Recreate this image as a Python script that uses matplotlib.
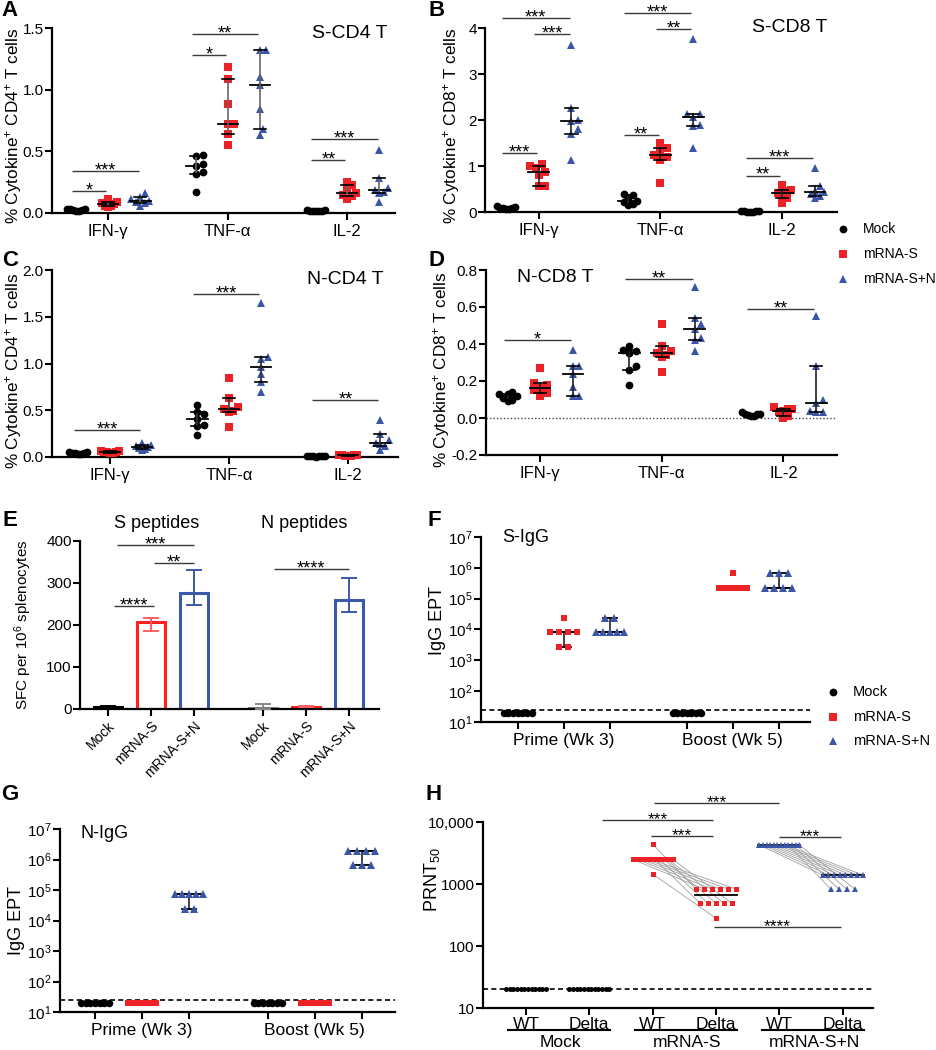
import numpy as np
import matplotlib
matplotlib.use('Agg')
import matplotlib.pyplot as plt
from matplotlib.lines import Line2D
from matplotlib.ticker import NullLocator
from matplotlib.transforms import blended_transform_factory

plt.rcParams['font.family'] = ['Liberation Sans', 'DejaVu Sans']
plt.rcParams['mathtext.fontset'] = 'custom'
plt.rcParams['mathtext.rm'] = 'Liberation Sans'
plt.rcParams['mathtext.it'] = 'Liberation Sans:italic'
plt.rcParams['mathtext.bf'] = 'Liberation Sans:bold'
plt.rcParams['axes.unicode_minus'] = False

# ---------------- DATA ----------------
groups = ['Mock', 'mRNA-S', 'mRNA-S+N']
cyto_cats = ['IFN-γ', 'TNF-α', 'IL-2']

# Panel A: S-CD4 T   (lists per cytokine: IFN-γ, TNF-α, IL-2)
A_mock = [[0.02, 0.025, 0.03, 0.02, 0.03, 0.025, 0.035],
          [0.47, 0.46, 0.40, 0.38, 0.33, 0.32, 0.17],
          [0.02, 0.02, 0.025, 0.015, 0.02, 0.025, 0.02]]
A_s = [[0.11, 0.09, 0.08, 0.07, 0.06, 0.06, 0.05],
       [1.18, 1.09, 0.88, 0.72, 0.72, 0.64, 0.55],
       [0.25, 0.23, 0.19, 0.16, 0.15, 0.14, 0.11]]
A_sn = [[0.16, 0.13, 0.11, 0.10, 0.09, 0.08, 0.06],
        [1.32, 1.32, 1.10, 1.04, 0.84, 0.68, 0.63],
        [0.51, 0.28, 0.20, 0.19, 0.17, 0.16, 0.09]]
A_sig = [(0, 0, 1, 0.175, '*'), (0, 0, 2, 0.34, '***'), (1, 0, 1, 1.28, '*'),
         (1, 0, 2, 1.45, '**'), (2, 0, 1, 0.43, '**'), (2, 0, 2, 0.60, '***')]

# Panel B: S-CD8 T
B_mock = [[0.12, 0.10, 0.09, 0.08, 0.07, 0.09, 0.06],
          [0.40, 0.37, 0.30, 0.25, 0.22, 0.17, 0.15],
          [0.02, 0.01, 0.015, 0.01, 0.02, 0.01, 0.015]]
B_s = [[1.04, 0.99, 0.95, 0.88, 0.81, 0.56, 0.56],
       [1.49, 1.39, 1.31, 1.24, 1.20, 1.13, 0.64],
       [0.59, 0.48, 0.45, 0.41, 0.34, 0.30, 0.19]]
B_sn = [[3.64, 2.27, 2.00, 1.98, 1.80, 1.70, 1.13],
        [3.77, 2.14, 2.14, 2.07, 1.89, 1.87, 1.39],
        [0.95, 0.56, 0.45, 0.43, 0.40, 0.34, 0.30]]
B_sig = [(0, 0, 1, 1.28, '***'), (0, 1, 2, 3.86, '***'), (0, 0, 2, 4.22, '***'),
         (1, 0, 1, 1.67, '**'), (1, 1, 2, 3.97, '**'), (1, 0, 2, 4.33, '***'),
         (2, 0, 1, 0.79, '**'), (2, 0, 2, 1.17, '***')]

# Panel C: N-CD4 T
C_mock = [[0.05, 0.04, 0.04, 0.03, 0.04, 0.05, 0.03],
          [0.56, 0.48, 0.46, 0.41, 0.34, 0.33, 0.23],
          [0.01, 0.01, 0.015, 0.01, 0.005, 0.01, 0.01]]
C_s = [[0.06, 0.05, 0.05, 0.04, 0.06, 0.05, 0.04],
       [0.84, 0.63, 0.54, 0.51, 0.49, 0.48, 0.32],
       [0.02, 0.015, 0.02, 0.01, 0.025, 0.02, 0.015]]
C_sn = [[0.15, 0.13, 0.12, 0.11, 0.10, 0.09, 0.08],
        [1.65, 1.07, 1.05, 0.96, 0.89, 0.80, 0.70],
        [0.40, 0.25, 0.18, 0.15, 0.14, 0.12, 0.07]]
C_sig = [(0, 0, 2, 0.29, '***'), (1, 0, 2, 1.74, '***'), (2, 0, 2, 0.61, '**')]

# Panel D: N-CD8 T
D_mock = [[0.14, 0.13, 0.13, 0.12, 0.11, 0.10, 0.09],
          [0.39, 0.37, 0.36, 0.35, 0.28, 0.26, 0.18],
          [0.03, 0.02, 0.02, 0.015, 0.01, 0.02, 0.01]]
D_s = [[0.27, 0.19, 0.18, 0.16, 0.15, 0.135, 0.12],
       [0.51, 0.39, 0.36, 0.35, 0.34, 0.33, 0.25],
       [0.06, 0.05, 0.05, 0.04, 0.03, 0.01, 0.0]]
D_sn = [[0.37, 0.28, 0.28, 0.24, 0.17, 0.12, 0.12],
        [0.71, 0.54, 0.51, 0.48, 0.43, 0.42, 0.36],
        [0.55, 0.28, 0.10, 0.08, 0.04, 0.03, 0.03]]
D_sig = [(0, 0, 2, 0.42, '*'), (1, 0, 2, 0.75, '**'), (2, 0, 2, 0.59, '**')]

# Panel E: ELISpot
E_labels = ['Mock', 'mRNA-S', 'mRNA-S+N', 'Mock', 'mRNA-S', 'mRNA-S+N']
E_mean = [5, 208, 277, 2, 5, 260]
E_lo = [3, 185, 247, 0, 4, 232]
E_hi = [8, 217, 330, 13, 7, 311]
E_sig = [(0.15, 1.07, 245, '****'), (1.07, 2.0, 347, '**'),
         (0.2, 2.0, 390, '***'), (3.85, 5.6, 333, '****')]

# Panel F: S-IgG (endpoint titers)
F_prime = [[20] * 7,
           [24300, 8100, 8100, 8100, 8100, 2700, 2700],
           [24300, 24300, 8100, 8100, 8100, 8100, 8100]]
F_boost = [[20] * 7,
           [656100, 218700, 218700, 218700, 218700, 218700, 218700],
           [656100, 656100, 656100, 218700, 218700, 218700, 218700]]
# Panel G: N-IgG
G_prime = [[20] * 7, [20] * 7,
           [72900, 72900, 72900, 72900, 72900, 24300, 24300]]
G_boost = [[20] * 7, [20] * 7,
           [1968300, 1968300, 1968300, 1968300, 656100, 656100, 656100]]
LOD_IGG = 25
time_labels = ['Prime (Wk 3)', 'Boost (Wk 5)']

# Panel H: PRNT50 (paired WT / Delta)
H_mock_wt = [20] * 12
H_mock_delta = [20] * 12
H_s_wt = [4400] + [2500] * 10 + [1450]
H_s_delta = [830] * 6 + [490] * 5 + [280]
H_sn_wt = [4270] * 12
H_sn_delta = [1400] * 8 + [830] * 4
H_variants = ['WT', 'Delta']
LOD_PRNT = 20
H_sig = [(2.02, 4.0, 20000, '***'), (1.2, 2.95, 10700, '***'), (1.98, 2.95, 5900, '***'),
         (4.0, 4.98, 5800, '***'), (2.97, 4.98, 200, '****')]

# ---------------- STYLE / LAYOUT ----------------
RED = '#ec2227'
BLUE = '#3a55a5'
COLORS = ['black', RED, BLUE]
MARKERS = ['o', 's', '^']
MSIZE = [5.6, 5.2, 6.3]

W, Hh = 937, 1050
fig = plt.figure(figsize=(W / 100, Hh / 100), dpi=100)


def rect(l, t, r, b):
    return [l / W, 1 - b / Hh, (r - l) / W, (b - t) / Hh]


def fx(p):
    return p / W


def fy(p):
    return 1 - p / Hh


def style(ax):
    for s in ['top', 'right']:
        ax.spines[s].set_visible(False)
    for s in ['left', 'bottom']:
        ax.spines[s].set_linewidth(1.6)
    ax.tick_params(direction='out', length=5, width=1.5, labelsize=11, pad=1)
    ax.tick_params(axis='x', pad=3)
    ax.xaxis.set_minor_locator(NullLocator())
    ax.yaxis.set_minor_locator(NullLocator())


def ppu_x(ax):
    return ax.transData.transform((1, 1))[0] - ax.transData.transform((0, 1))[0]


def swarm(ax, xc, ys, diam, maxhalf):
    ys = np.asarray(ys, float)
    disp = ax.transData.transform(np.column_stack([np.full(len(ys), xc), ys]))
    ypx = disp[:, 1]
    order = np.argsort(ypx)
    px_list, py_list = [], []
    off = np.zeros(len(ys))
    step = diam / 2
    cands = [0.0] + [s * j * step for j in range(1, 60) for s in (1, -1)]
    for i in order:
        for c in cands:
            if all((c - a) ** 2 + (ypx[i] - b) ** 2 >= diam ** 2 for a, b in zip(px_list, py_list)):
                break
        off[i] = c
        px_list.append(c)
        py_list.append(ypx[i])
    m = np.abs(off).max()
    if m > maxhalf:
        off *= maxhalf / m
    return xc + off / ppu_x(ax)


def row_spread(ax, xc, ys, maxsp, width):
    ys = np.asarray(ys, float)
    off = np.zeros(len(ys))
    uniq = []
    for v in ys:
        if not any(np.isclose(v, u) for u in uniq):
            uniq.append(v)
    for u in uniq:
        idx = np.where(np.isclose(ys, u))[0]
        n = len(idx)
        if n > 1:
            sp = min(maxsp, width / (n - 1))
            off[idx] = (np.arange(n) - (n - 1) / 2) * sp
    return xc + off / ppu_x(ax)


def bracket(ax, x1, x2, y, txt, fs=13):
    ax.plot([x1, x2], [y, y], color='#3a3a3a', lw=1.0, clip_on=False, zorder=5,
            solid_capstyle='butt')
    ax.annotate(txt, xy=((x1 + x2) / 2, y), xytext=(0, -3), textcoords='offset points',
                ha='center', va='baseline', fontsize=fs, annotation_clip=False)


def median_bar(ax, xc, vals, half, cap, errcolor, lw=1.2, zmed=4):
    q1, med, q3 = np.percentile(vals, [25, 50, 75], method='weibull')
    ax.plot([xc - half, xc + half], [med, med], color='black', lw=lw + 0.1, zorder=zmed,
            clip_on=False)
    if q3 > q1:
        ax.plot([xc, xc], [q1, q3], color=errcolor, lw=lw, zorder=zmed, clip_on=False)
        for q in (q1, q3):
            ax.plot([xc - cap, xc + cap], [q, q], color='black', lw=lw, zorder=zmed,
                    clip_on=False)


GOFF = [-0.265, 0.0, 0.27]


def cyto_panel(box, xlim, ylim, yticks, yticklabels, series, sig, ylabel, lab_x, lab_y,
               errcolor):
    ax = fig.add_axes(rect(*box))
    style(ax)
    ax.set_xlim(xlim)
    ax.set_ylim(ylim)
    ax.set_yticks(yticks)
    ax.set_yticklabels(yticklabels)
    ax.set_xticks([0, 1, 2])
    ax.set_xticklabels(cyto_cats, fontsize=12)
    ax.set_ylabel(ylabel, fontsize=12.3)
    ax.yaxis.set_label_coords(lab_x, lab_y)
    for gi, data in enumerate(series):
        for ci, vals in enumerate(data):
            xc = ci + GOFF[gi]
            xs = swarm(ax, xc, vals, 6.5, 9)
            ax.plot(xs, vals, ls='none', marker=MARKERS[gi], ms=MSIZE[gi], mew=0,
                    color=COLORS[gi], zorder=3, clip_on=False)
            median_bar(ax, xc, vals, 0.085, 0.05, errcolor)
    for ci, g1, g2, y, txt in sig:
        bracket(ax, ci + GOFF[g1] - 0.035, ci + GOFF[g2] - 0.015, y, txt)
    return ax


# ---- A ----
cyto_panel((52, 28, 395, 213), (-0.47, 2.4), (0, 1.5), [0, 0.5, 1.0, 1.5],
           ['0.0', '0.5', '1.0', '1.5'], [A_mock, A_s, A_sn], A_sig,
           r'% Cytokine$^{+}$ CD4$^{+}$ T cells', -0.082, 0.47, '#666666')
fig.text(fx(350), fy(33), 'S-CD4 T', ha='center', va='center', fontsize=14)

# ---- B ----
cyto_panel((485, 28, 837, 212), (-0.44, 2.45), (0, 4), [0, 1, 2, 3, 4],
           ['0', '1', '2', '3', '4'], [B_mock, B_s, B_sn], B_sig,
           r'% Cytokine$^{+}$ CD8$^{+}$ T cells', -0.066, 0.47, '#222222')
fig.text(fx(790), fy(28), 'S-CD8 T', ha='center', va='center', fontsize=14)

# ---- C ----
cyto_panel((52, 270, 398, 457), (-0.487, 2.42), (0, 2.0), [0, 0.5, 1.0, 1.5, 2.0],
           ['0.0', '0.5', '1.0', '1.5', '2.0'], [C_mock, C_s, C_sn], C_sig,
           r'% Cytokine$^{+}$ CD4$^{+}$ T cells', -0.082, 0.46, '#333333')
fig.text(fx(345), fy(280), 'N-CD4 T', ha='center', va='center', fontsize=14)

# ---- D ----
axD = cyto_panel((486, 270, 837, 455), (-0.444, 2.44), (-0.2, 0.8),
                 [-0.2, 0.0, 0.2, 0.4, 0.6, 0.8],
                 ['-0.2', '0.0', '0.2', '0.4', '0.6', '0.8'], [D_mock, D_s, D_sn], D_sig,
                 r'% Cytokine$^{+}$ CD8$^{+}$ T cells', -0.096, 0.46, '#222222')
axD.axhline(0, color='#444444', lw=1.0, ls=(0, (1, 1.5)), zorder=1)
fig.text(fx(555), fy(278), 'N-CD8 T', ha='center', va='center', fontsize=14)

# legend 1
for gi in range(3):
    yy = [229, 254, 279][gi]
    fig.add_artist(Line2D([fx(843)], [fy(yy)], marker=MARKERS[gi], ms=MSIZE[gi], mew=0,
                          color=COLORS[gi], ls='none', transform=fig.transFigure))
    fig.text(fx(863), fy(yy), groups[gi], ha='left', va='center', fontsize=10)

# ---- E ----
axE = fig.add_axes(rect(80, 541, 379, 709))
style(axE)
E_pos = [0, 1, 2, 3.6, 4.6, 5.6]
E_edge = ['black', '#ff2020', '#3c58a8', '#888888', '#ff2020', '#3c58a8']
E_err = ['black', '#ff6060', '#3c58a8', '#888888', '#ff6060', '#3c58a8']
axE.set_xlim(-0.65, 6.3)
axE.set_ylim(0, 400)
axE.bar(E_pos, E_mean, width=0.65, facecolor='white', edgecolor=E_edge, linewidth=2.2,
        zorder=2)
for p, m, lo, hi, c in zip(E_pos, E_mean, E_lo, E_hi, E_err):
    axE.errorbar([p], [m], yerr=[[m - lo], [hi - m]], fmt='none', ecolor=c, elinewidth=1.4,
                 capsize=6, capthick=1.4, zorder=3)
axE.set_yticks([0, 100, 200, 300, 400])
axE.set_xticks(E_pos)
axE.set_xticklabels(E_labels, rotation=45, ha='right', rotation_mode='anchor', fontsize=10)
axE.tick_params(axis='x', pad=2)
axE.set_ylabel(r'SFC per 10$^{6}$ splenocytes', fontsize=11)
axE.yaxis.set_label_coords(-0.155, 0.5)
for x1, x2, y, txt in E_sig:
    bracket(axE, x1, x2, y, txt)
fig.text(fx(157), fy(523), 'S peptides', ha='center', va='center', fontsize=13)
fig.text(fx(304), fy(523), 'N peptides', ha='center', va='center', fontsize=13)


# ---- F / G ----
def igg_panel(box, xlim, prime, boost, title, title_xy, lab_x, lab_y):
    ax = fig.add_axes(rect(*box))
    style(ax)
    ax.set_yscale('log')
    ax.set_xlim(xlim)
    ax.set_ylim(10, 1e7)
    ax.set_yticks([10 ** k for k in range(1, 8)])
    ax.set_yticklabels([r'$10^{%d}$' % k for k in range(1, 8)])
    ax.yaxis.set_minor_locator(NullLocator())
    pos = [0, 1, 2, 3.67, 4.67, 5.67]
    ax.set_xticks(pos)
    ax.set_xticklabels(['', time_labels[0], '', '', time_labels[1], ''], fontsize=12.5)
    ax.axhline(LOD_IGG, color='black', lw=1.2, ls=(0, (3, 2)), zorder=1)
    for ti, tdata in enumerate([prime, boost]):
        for gi, vals in enumerate(tdata):
            xc = pos[ti * 3 + gi]
            xs = row_spread(ax, xc, vals, 9, 28)
            ax.plot(xs, vals, ls='none', marker=MARKERS[gi], ms=MSIZE[gi] - 0.2, mew=0,
                    color=COLORS[gi], zorder=3, clip_on=False)
            if gi > 0 and min(vals) > LOD_IGG:
                median_bar(ax, xc, vals, 0.3, 0.15, '#333333', lw=1.3, zmed=2.5)
    ax.set_ylabel('IgG EPT', fontsize=13)
    ax.yaxis.set_label_coords(lab_x, lab_y)
    fig.text(fx(title_xy[0]), fy(title_xy[1]), title, ha='center', va='center', fontsize=13)
    return ax


igg_panel((481, 537, 810, 722), (-0.8, 6.35), F_prime, F_boost, 'S-IgG', (526, 537),
          -0.105, 0.55)
igg_panel((60, 829, 395, 1012), (-0.745, 6.38), G_prime, G_boost, 'N-IgG', (105, 833),
          -0.105, 0.5)

# legend 2
for gi in range(3):
    yy = [692, 717, 741][gi]
    fig.add_artist(Line2D([fx(833)], [fy(yy)], marker=MARKERS[gi], ms=MSIZE[gi], mew=0,
                          color=COLORS[gi], ls='none', transform=fig.transFigure))
    fig.text(fx(853), fy(yy), groups[gi], ha='left', va='center', fontsize=10.5)

# ---- H ----
axH = fig.add_axes(rect(483, 822, 873, 1008))
style(axH)
axH.set_yscale('log')
axH.set_xlim(-0.68, 5.48)
axH.set_ylim(10, 10000)
axH.set_yticks([10, 100, 1000, 10000])
axH.set_yticklabels(['10', '100', '1000', '10,000'])
axH.yaxis.set_minor_locator(NullLocator())
axH.set_xticks(range(6))
axH.set_xticklabels(H_variants * 3, fontsize=12.5)
axH.tick_params(axis='x', pad=1.5)
axH.axhline(LOD_PRNT, color='black', lw=1.2, ls=(0, (3, 2)), zorder=1)
H_pairs = [(H_mock_wt, H_mock_delta), (H_s_wt, H_s_delta), (H_sn_wt, H_sn_delta)]
HMS = [3.6, 3.6, 4.3]
for gi, (wt, de) in enumerate(H_pairs):
    xw = row_spread(axH, 2 * gi, wt, 8, 40)
    xd = row_spread(axH, 2 * gi + 1, de, 8, 40)
    if gi > 0:
        for a, b, ya, yb in zip(xw, xd, wt, de):
            axH.plot([a, b], [ya, yb], color='#a0a0a0', lw=0.6, zorder=2)
        for xc, vals in ((2 * gi, wt), (2 * gi + 1, de)):
            med = np.median(vals)
            axH.plot([xc - 0.33, xc + 0.33], [med, med], color='black', lw=1.3, zorder=2.5)
    for xs, vals in ((xw, wt), (xd, de)):
        axH.plot(xs, vals, ls='none', marker=MARKERS[gi], ms=HMS[gi], mew=0,
                 color=COLORS[gi], zorder=3, clip_on=False)
for x1, x2, y, txt in H_sig:
    bracket(axH, x1, x2, y, txt, fs=12.5)
trH = blended_transform_factory(axH.transData, axH.transAxes)
for gi, name in enumerate(groups):
    axH.plot([2 * gi - 0.28, 2 * gi + 1.33], [-0.118, -0.118], color='black', lw=1.5,
             transform=trH, clip_on=False)
    axH.text(2 * gi + 0.55, -0.183, name, transform=trH, ha='center', va='center',
             fontsize=12.5)
axH.set_ylabel(r'PRNT$_{50}$', fontsize=13)
axH.yaxis.set_label_coords(-0.105, 0.69)

# panel letters
for letter, (px, py) in zip('ABCDEFGH', [(10, 11), (437, 11), (10, 261), (437, 261),
                                         (10, 521), (434, 521), (10, 795), (434, 795)]):
    fig.text(fx(px), fy(py), letter, ha='center', va='center', fontsize=16,
             fontweight='bold')

fig.savefig('out.png', dpi=100)
